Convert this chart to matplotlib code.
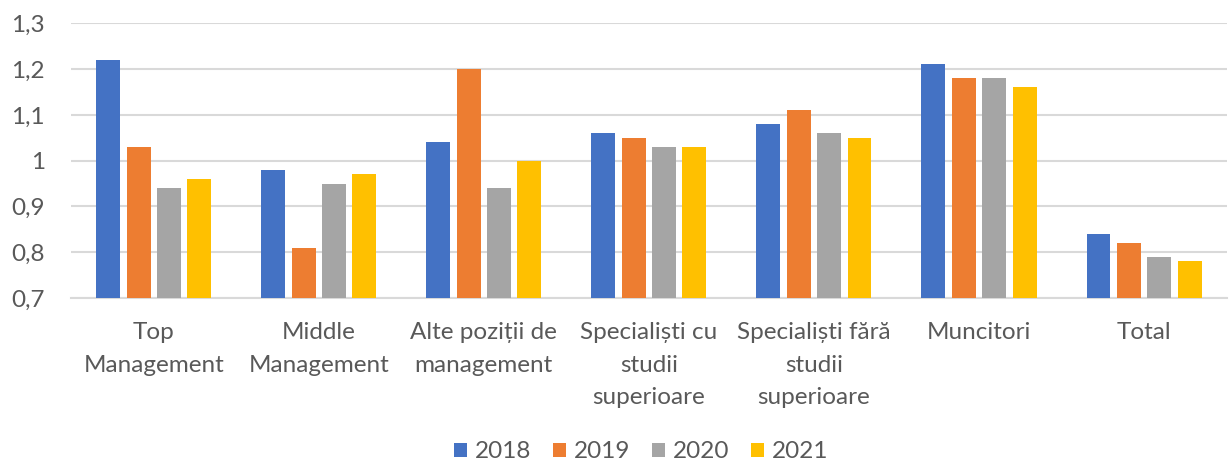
import matplotlib
matplotlib.use("Agg")
import matplotlib.pyplot as plt
import numpy as np
from matplotlib.ticker import FuncFormatter

categories = ["Top\nManagement", "Middle\nManagement", "Alte poziții de\nmanagement",
              "Specialiști cu\nstudii\nsuperioare", "Specialiști fără\nstudii\nsuperioare",
              "Muncitori", "Total"]
years = ["2018", "2019", "2020", "2021"]
v2018 = [1.22, 0.98, 1.04, 1.06, 1.08, 1.21, 0.84]
v2019 = [1.03, 0.81, 1.20, 1.05, 1.11, 1.18, 0.82]
v2020 = [0.94, 0.95, 0.94, 1.03, 1.06, 1.18, 0.79]
v2021 = [0.96, 0.97, 1.00, 1.03, 1.05, 1.16, 0.78]
series = [v2018, v2019, v2020, v2021]
colors = ["#4472C4", "#ED7D31", "#A5A5A5", "#FFC000"]

plt.rcParams['font.family'] = ['Lato', 'DejaVu Sans']
txt = "#595959"
fs = 17.5

fig = plt.figure(figsize=(12.29, 4.65), dpi=100)
ax = fig.add_axes([0.058, 0.359, 0.940, 0.591])

x = np.arange(len(categories))
pitch = 0.184
width = 0.145
for i, (vals, c, lab) in enumerate(zip(series, colors, years)):
    ax.bar(x + (i - 1.5) * pitch, np.array(vals) - 0.7, width, bottom=0.7,
           color=c, label=lab, zorder=3)

def fmt(v, p):
    s = "%.1f" % v
    if s == "1.0":
        return "1"
    return s.replace(".", ",")

ax.set_ylim(0.7, 1.3)
ax.set_xlim(-0.5, len(categories) - 0.5)
ax.set_yticks(np.arange(0.7, 1.31, 0.1))
ax.yaxis.set_major_formatter(FuncFormatter(fmt))
ax.grid(axis='y', color='#D9D9D9', linewidth=1.5, zorder=0)
for s in ['top', 'right', 'left']:
    ax.spines[s].set_visible(False)
ax.spines['bottom'].set_color('#D9D9D9')
ax.spines['bottom'].set_linewidth(1.5)
ax.tick_params(axis='both', length=0, labelsize=fs, colors=txt)
ax.tick_params(axis='y', pad=19)
ax.tick_params(axis='x', pad=17)
ax.set_xticks(x)
ax.set_xticklabels(categories, linespacing=1.7)

leg = fig.legend(loc='center', bbox_to_anchor=(0.5215, 0.028), ncol=4, frameon=False,
                 fontsize=fs, handlelength=0.55, handleheight=0.55, handletextpad=0.3,
                 columnspacing=0.9, borderpad=0)
for t in leg.get_texts():
    t.set_color(txt)

fig.savefig("out.png", dpi=100)
